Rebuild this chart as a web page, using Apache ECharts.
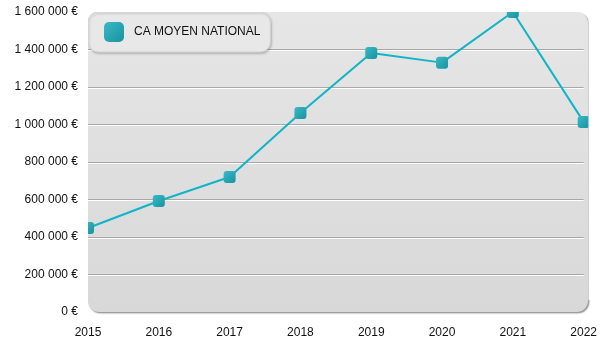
<!DOCTYPE html>
<html>
<head>
<meta charset="utf-8">
<script src="https://cdn.jsdelivr.net/npm/echarts@6/dist/echarts.min.js"></script>
<style>
  html, body { margin: 0; padding: 0; background: #fff; }
  #chart { width: 600px; height: 350px; }
</style>
</head>
<body>
<div id="chart"></div>
<script>
// Average national turnover per year
const years = ['2015', '2016', '2017', '2018', '2019', '2020', '2021', '2022'];
const caMoyen = [448000, 592000, 720000, 1061000, 1381000, 1330000, 1600000, 1014000];
const seriesName = 'CA MOYEN NATIONAL';
const yMax = 1600000;
const yStep = 200000;

const W = 600, H = 350;
const G = { left: 88, right: 12, top: 12, bottom: 38 };
const plotW = W - G.left - G.right;
const plotH = H - G.top - G.bottom;

const FONT = '"Liberation Sans", Arial, sans-serif';

function euro(v) {
  return String(v).replace(/\B(?=(\d{3})+(?!\d))/g, ' ') + ' €';
}

const markerFill = new echarts.graphic.LinearGradient(0, 0, 1, 1, [
  { offset: 0, color: '#3bb9c6' },
  { offset: 1, color: '#1893a0' }
]);

const chart = echarts.init(document.getElementById('chart'), null, { renderer: 'canvas' });

chart.setOption({
  animation: false,
  backgroundColor: '#ffffff',
  grid: { left: G.left, right: G.right, top: G.top, bottom: G.bottom, containLabel: false },
  graphic: [
    {
      // rounded plot panel
      type: 'rect', z: -10, silent: true,
      shape: { x: G.left, y: G.top, width: plotW, height: plotH, r: 11 },
      style: {
        fill: new echarts.graphic.LinearGradient(0, 0, 0, 1, [
          { offset: 0, color: '#e6e6e6' },
          { offset: 1, color: '#d8d8d8' }
        ]),
        shadowColor: 'rgba(0,0,0,0.45)', shadowBlur: 1.5, shadowOffsetX: 1.2, shadowOffsetY: 1.2
      }
    },
    // white margins that trim markers at the panel edges
    { type: 'rect', z: 5, silent: true, shape: { x: 0, y: 0, width: G.left, height: G.top + plotH + 1 }, style: { fill: '#fff' } },
    { type: 'rect', z: 5, silent: true, shape: { x: 0, y: 0, width: W, height: G.top }, style: { fill: '#fff' } },
    { type: 'rect', z: 5, silent: true, shape: { x: G.left + plotW + 0.5, y: 0, width: G.right, height: G.top + plotH - 12 }, style: { fill: '#fff' } }
  ],
  legend: {
    left: G.left,
    top: G.top,
    padding: [10, 10, 10, 16],
    itemWidth: 20,
    itemHeight: 20,
    icon: 'roundRect',
    backgroundColor: '#e8e8e8',
    borderColor: '#d2d2d2',
    borderWidth: 1,
    borderRadius: 10,
    shadowColor: 'rgba(0,0,0,0.18)',
    shadowBlur: 2,
    shadowOffsetX: 1,
    shadowOffsetY: 1.5,
    textStyle: { fontFamily: FONT, fontSize: 12, color: '#111', padding: [0, 0, 0, 5] },
    data: [seriesName]
  },
  xAxis: {
    type: 'category',
    data: years,
    boundaryGap: false,
    axisLine: { show: false },
    axisTick: { show: false },
    splitLine: { show: false },
    axisLabel: { fontFamily: FONT, fontSize: 12, color: '#111', margin: 15 }
  },
  yAxis: [
    {
      // grid lines only
      type: 'value', min: 0, max: yMax, interval: yStep, z: 1,
      axisLine: { show: false }, axisTick: { show: false },
      axisLabel: { show: false },
      splitLine: {
        show: true, showMinLine: false, showMaxLine: false,
        lineStyle: { color: '#a8a8a8', width: 1, shadowColor: '#ffffff', shadowOffsetY: 1, shadowBlur: 0 }
      }
    },
    {
      // tick labels, drawn above the edge trims
      type: 'value', position: 'left', min: 0, max: yMax, interval: yStep, z: 10,
      axisLine: { show: false }, axisTick: { show: false },
      splitLine: { show: false },
      axisLabel: { fontFamily: FONT, fontSize: 12, color: '#111', margin: 10, padding: [2, 0, 0, 0], formatter: euro }
    }
  ],
  series: [
    {
      name: seriesName,
      type: 'line',
      yAxisIndex: 0,
      data: caMoyen,
      z: 2,
      clip: false,
      symbol: 'roundRect',
      symbolSize: 12,
      showAllSymbol: true,
      lineStyle: { color: '#10b4c6', width: 2 },
      itemStyle: { color: markerFill, borderWidth: 0 }
    }
  ]
});
</script>
</body>
</html>
